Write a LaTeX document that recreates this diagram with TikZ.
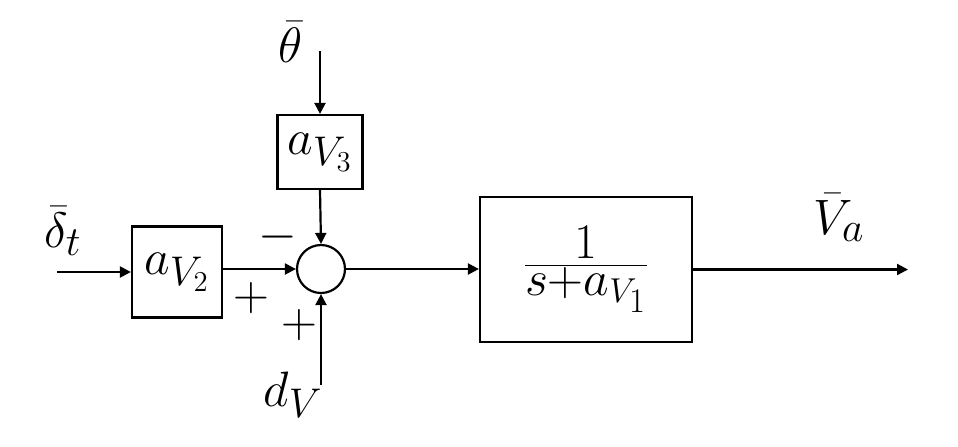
\documentclass[tikz,border=0pt]{standalone}
\usetikzlibrary{arrows.meta}
\begin{document}
\begin{tikzpicture}[x=0.5pt,y=-0.5pt,
  line width=1.1pt,
  font=\fontsize{28}{32}\selectfont,
  blk/.style={draw,inner sep=0pt},
  sumnode/.style={draw,circle,minimum size=24pt,inner sep=0pt},
  lbl/.style={inner sep=0pt},
  sgn/.style={inner sep=0pt,font=\fontsize{23}{26}\selectfont},
  arr/.style={-{Triangle[length=5.5pt,width=5.5pt]}}]
\useasboundingbox (0,0) rectangle (958,446);
% blocks
\node[blk,minimum width=45pt,minimum height=45.5pt] (v2) at (177,272) {$a_{V_2}$};
\node[blk,minimum width=42.5pt,minimum height=37pt] (v3) at (320,152) {$a_{V_3}$};
\node[blk,minimum width=106pt,minimum height=72.5pt,font=\fontsize{35}{40}\selectfont] (tf) at (586,269.5) {$\frac{1}{s+a_{V_1}}$};
\node[sumnode] (sum) at (321,269) {};
% free ends
\coordinate (in) at (57,272);
\coordinate (th) at (320,51);
\coordinate (dv) at (321,385);
\coordinate (out) at (908,269.5);
% labels
\node[lbl] (ldelta) at (63,231) {$\bar\delta_t$};
\node[lbl] (ltheta) at (291,42) {$\bar\theta$};
\node[lbl] (ldv) at (293,395) {$d_V$};
\node[lbl] (lva) at (839,218) {$\bar V_a$};
\node[sgn] (sminus) at (278,237) {$-$};
\node[sgn] (splus1) at (251,298) {$+$};
\node[sgn] (splus2) at (299,325) {$+$};
% connectors
\draw[arr] (in) -- (v2.west |- in);
\draw[arr] (v2.east |- sum) -- (sum.west);
\draw[arr] (th) -- (v3.north);
\draw[arr] (v3.south) -- (sum.north);
\draw[arr] (dv) -- (sum.south);
\draw[arr] (sum.east) -- (tf.west |- sum);
\draw[arr] (tf.east) -- (out);
\end{tikzpicture}
\end{document}
